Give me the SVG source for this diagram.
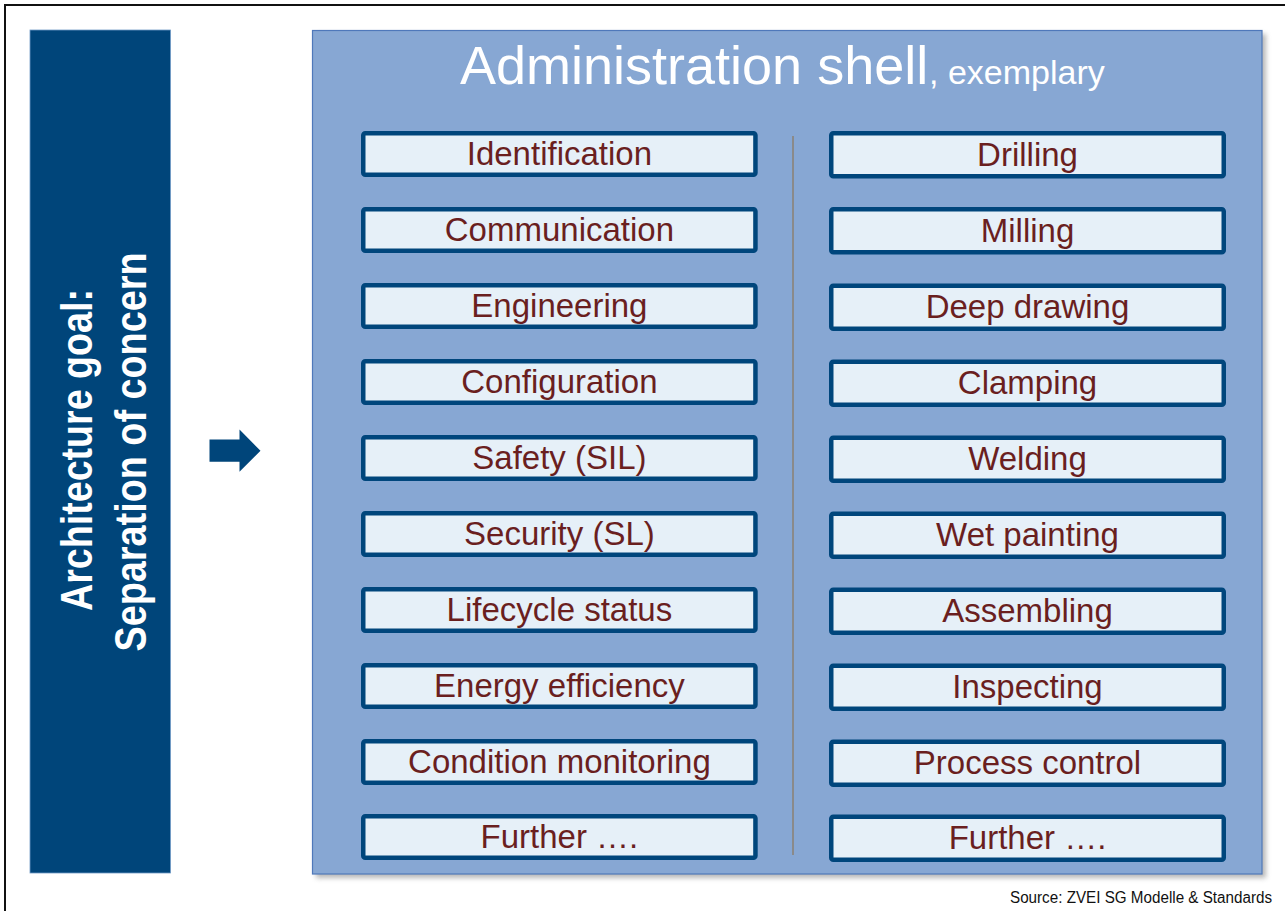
<svg xmlns="http://www.w3.org/2000/svg" width="1285" height="911" viewBox="0 0 1285 911">
<style>
.box{fill:#E6F0F8;stroke:#00467C;stroke-width:4.5}
.lbl{font-family:"Liberation Sans",Arial,sans-serif;font-size:33px;fill:#6A1F1F;text-anchor:middle}
.side{font-family:"Liberation Sans",Arial,sans-serif;font-size:44px;font-weight:bold;fill:#FFFFFF;text-anchor:middle}
</style>
<defs>
<filter id="sh" x="-5%" y="-5%" width="110%" height="110%"><feGaussianBlur stdDeviation="2.5"/></filter>
</defs>
<rect width="1285" height="911" fill="#FFFFFF"/>
<path d="M5,911 V5 H1285" fill="none" stroke="#111" stroke-width="2"/>
<g id="goal">
<rect x="30" y="30" width="140.5" height="843" fill="#00457A" stroke="#6F9AC6" stroke-width="0.8"/>
<text class="side" transform="translate(92,450) rotate(-90)" textLength="322" lengthAdjust="spacingAndGlyphs">Architecture goal:</text>
<text class="side" transform="translate(146,452) rotate(-90)" textLength="399" lengthAdjust="spacingAndGlyphs">Separation of concern</text>
</g>
<g id="connectors">
<polygon points="209.5,439.5 239.5,439.5 239.5,429.5 260.5,450.7 239.5,471.7 239.5,461.7 209.5,461.7" fill="#00457A"/>
</g>
<g id="shell">
<rect x="316" y="34" width="950" height="844" fill="#9a9a9a" opacity="0.7" filter="url(#sh)"/>
<rect x="312.5" y="30.5" width="949.5" height="843.5" fill="#87A7D3" stroke="#4F78BA" stroke-width="1.2"/>
<text x="460" y="84" font-family="Liberation Sans,Arial,sans-serif" font-size="54" fill="#FFFFFF">Administration shell</text>
<text x="929" y="84" font-family="Liberation Sans,Arial,sans-serif" font-size="34" fill="#FFFFFF">, exemplary</text>
<line x1="793" y1="136" x2="793" y2="855" stroke="#8A8A8A" stroke-width="2"/>
</g>
<g id="left-items">
<g id="identification"><rect class="box" x="363.25" y="133.25" width="392.2" height="41.5" rx="2"/><text class="lbl" x="559.4" y="165">Identification</text></g>
<g id="communication"><rect class="box" x="363.25" y="209.25" width="392.2" height="41.5" rx="2"/><text class="lbl" x="559.4" y="241">Communication</text></g>
<g id="engineering"><rect class="box" x="363.25" y="285.25" width="392.2" height="41.5" rx="2"/><text class="lbl" x="559.4" y="317">Engineering</text></g>
<g id="configuration"><rect class="box" x="363.25" y="361.25" width="392.2" height="41.5" rx="2"/><text class="lbl" x="559.4" y="393">Configuration</text></g>
<g id="safety"><rect class="box" x="363.25" y="437.25" width="392.2" height="41.5" rx="2"/><text class="lbl" x="559.4" y="469">Safety (SIL)</text></g>
<g id="security"><rect class="box" x="363.25" y="513.25" width="392.2" height="41.5" rx="2"/><text class="lbl" x="559.4" y="545">Security (SL)</text></g>
<g id="lifecycle"><rect class="box" x="363.25" y="589.25" width="392.2" height="41.5" rx="2"/><text class="lbl" x="559.4" y="621">Lifecycle status</text></g>
<g id="energy"><rect class="box" x="363.25" y="665.25" width="392.2" height="41.5" rx="2"/><text class="lbl" x="559.4" y="697">Energy efficiency</text></g>
<g id="condition"><rect class="box" x="363.25" y="741.25" width="392.2" height="41.5" rx="2"/><text class="lbl" x="559.4" y="773">Condition monitoring</text></g>
<g id="further-left"><rect class="box" x="363.25" y="816.25" width="392.2" height="41.5" rx="2"/><text class="lbl" x="559.4" y="848">Further ….</text></g>
</g>
<g id="right-items">
<g id="drilling"><rect class="box" x="831.25" y="133.25" width="392.5" height="43" rx="2"/><text class="lbl" x="1027.5" y="166">Drilling</text></g>
<g id="milling"><rect class="box" x="831.25" y="209.25" width="392.5" height="43" rx="2"/><text class="lbl" x="1027.5" y="242">Milling</text></g>
<g id="deep-drawing"><rect class="box" x="831.25" y="285.75" width="392.5" height="43" rx="2"/><text class="lbl" x="1027.5" y="318">Deep drawing</text></g>
<g id="clamping"><rect class="box" x="831.25" y="361.75" width="392.5" height="43" rx="2"/><text class="lbl" x="1027.5" y="394">Clamping</text></g>
<g id="welding"><rect class="box" x="831.25" y="437.75" width="392.5" height="43" rx="2"/><text class="lbl" x="1027.5" y="470">Welding</text></g>
<g id="wet-painting"><rect class="box" x="831.25" y="513.75" width="392.5" height="43" rx="2"/><text class="lbl" x="1027.5" y="546">Wet painting</text></g>
<g id="assembling"><rect class="box" x="831.25" y="589.75" width="392.5" height="43" rx="2"/><text class="lbl" x="1027.5" y="622">Assembling</text></g>
<g id="inspecting"><rect class="box" x="831.25" y="665.75" width="392.5" height="43" rx="2"/><text class="lbl" x="1027.5" y="698">Inspecting</text></g>
<g id="process-control"><rect class="box" x="831.25" y="741.75" width="392.5" height="43" rx="2"/><text class="lbl" x="1027.5" y="774">Process control</text></g>
<g id="further-right"><rect class="box" x="831.25" y="816.75" width="392.5" height="43" rx="2"/><text class="lbl" x="1027.5" y="849">Further ….</text></g>
</g>
<text x="1272" y="903" font-family="Liberation Sans,Arial,sans-serif" font-size="16" fill="#111" text-anchor="end" textLength="262" lengthAdjust="spacingAndGlyphs">Source: ZVEI SG Modelle &amp; Standards</text>
</svg>
